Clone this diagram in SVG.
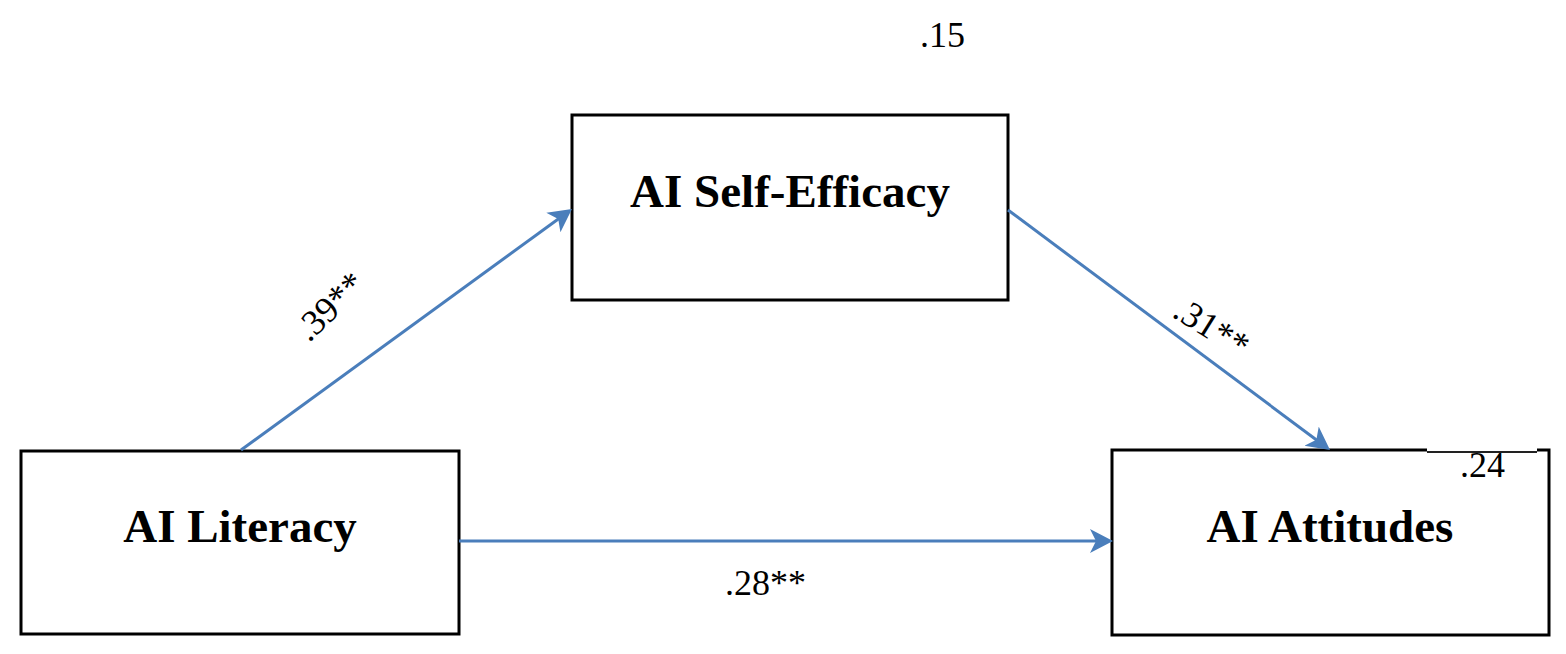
<svg xmlns="http://www.w3.org/2000/svg" width="1566" height="654" viewBox="0 0 1566 654">
  <style>
    .box { fill: #ffffff; stroke: #000000; stroke-width: 3; }
    .title { font-family: "Liberation Serif", "Times New Roman", serif; font-weight: bold; font-size: 47px; fill: #000000; text-anchor: middle; }
    .num { font-family: "Liberation Serif", "Times New Roman", serif; font-size: 36px; fill: #000000; }
    .conn { stroke: #4a7ebb; stroke-width: 3; fill: none; marker-end: url(#arrow); }
  </style>
  <defs>
    <marker id="arrow" markerUnits="userSpaceOnUse" markerWidth="24" markerHeight="26" viewBox="0 0 24 26" refX="15" refY="12.5" orient="auto">
      <path d="M23,12.5 L0,0.5 L6,12.5 L0,24.5 Z" fill="#4a7ebb"/>
    </marker>
  </defs>
  <rect width="1566" height="654" fill="#ffffff"/>

  <g id="node-ai-self-efficacy">
    <rect class="box" x="572" y="115" width="436" height="185"/>
    <text class="title" x="790" y="207">AI Self-Efficacy</text>
  </g>
  <g id="node-ai-literacy">
    <rect class="box" x="21" y="451" width="438" height="183"/>
    <text class="title" x="240" y="542">AI Literacy</text>
  </g>
  <g id="node-ai-attitudes">
    <rect class="box" x="1112" y="450" width="437" height="185"/>
    <rect x="1427" y="447" width="110" height="5" fill="#ffffff"/>
    <line x1="1427" y1="452" x2="1537" y2="452" stroke="#222222" stroke-width="2"/>
    <text class="title" x="1330" y="542">AI Attitudes</text>
    <text class="num" x="1460" y="477">.24</text>
  </g>
  <g id="r2-self-efficacy">
    <text class="num" x="920" y="47">.15</text>
  </g>

  <g id="connectors">
    <line class="conn" x1="241" y1="450" x2="565.5" y2="213.7"/>
    <line class="conn" x1="1008" y1="210" x2="1323.6" y2="445.2"/>
    <line class="conn" x1="459" y1="541" x2="1105" y2="541"/>
    <text class="num" transform="translate(309,343) rotate(-44)" font-size="39">.39**</text>
    <text class="num" transform="translate(1171,316) rotate(32)">.31**</text>
    <text class="num" x="725" y="595">.28**</text>
  </g>
</svg>
